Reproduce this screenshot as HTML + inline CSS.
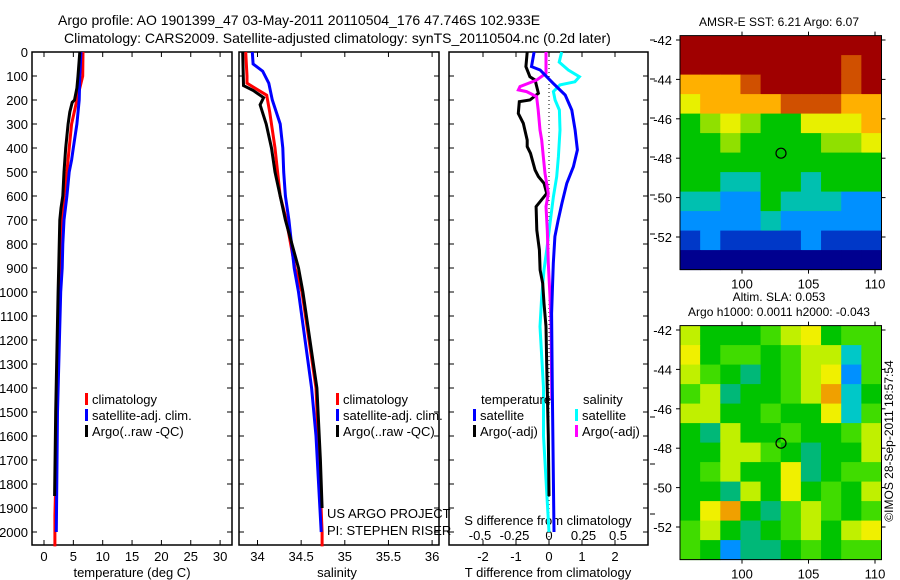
<!DOCTYPE html>
<html><head><meta charset="utf-8"><style>
body{margin:0;background:#fff;}
svg{display:block;font-family:"Liberation Sans",sans-serif;}
text{fill:#000;}
</style></head><body>
<svg id="fig" width="900" height="580" viewBox="0 0 900 580">
<text x="58" y="25" font-size="14">Argo profile: AO 1901399_47 03-May-2011 20110504_176 47.746S 102.933E</text>
<text x="64" y="43" font-size="14">Climatology: CARS2009. Satellite-adjusted climatology: synTS_20110504.nc (0.2d later)</text>
<g id="g"></g>
</svg>
<script>
// ---- data ----
const tClimDepth=[0,100,200,300,400,500,600,700,800,900,1000,1200,1500,1800,1930,2060];
const tClimVal=[6.65,6.6,5.6,4.7,4.3,3.9,3.4,3.1,3.0,2.9,2.7,2.5,2.2,2.0,1.85,1.85];
const tSatDepth=[0,100,200,300,400,450,500,600,700,800,900,1000,1500,2000];
const tSatVal=[6.3,6.1,6.0,5.6,5.0,4.7,4.3,3.9,3.4,3.2,3.1,2.85,2.3,2.1];
const tArgoDepth=[0,100,150,200,210,250,300,400,500,600,650,700,900,1000,1500,1850];
const tArgoVal=[6.1,5.8,5.6,5.2,4.8,4.4,4.1,3.7,3.4,3.2,2.9,2.7,2.5,2.4,2.0,1.8];
const sClimDepth=[0,100,130,180,250,400,500,600,700,900,1000,1400,2000,2060];
const sClimVal=[33.865,33.88,33.88,34.105,34.14,34.2,34.23,34.26,34.33,34.43,34.51,34.67,34.74,34.74];
const sSatDepth=[0,50,80,130,200,300,400,500,600,700,900,1000,1400,1600,1800,2000];
const sSatVal=[33.94,33.95,34.06,34.13,34.17,34.26,34.29,34.30,34.32,34.36,34.42,34.47,34.62,34.67,34.70,34.73];
const sArgoDepth=[0,140,160,190,220,300,400,500,600,700,900,1000,1400,1700,1900];
const sArgoVal=[33.83,33.84,33.95,34.07,34.03,34.10,34.16,34.2,34.26,34.32,34.47,34.52,34.68,34.72,34.74];
const dtArgoDepth=[0,61,103,117,172,200,207,256,297,367,394,422,492,519,547,589,644,742,825,908,964,1047,1144,1300,1600,1850];
const dtArgoVal=[-0.66,-0.70,-0.58,-0.42,-0.32,-0.58,-0.90,-0.93,-0.78,-0.66,-0.66,-0.56,-0.42,-0.32,-0.15,-0.07,-0.39,-0.37,-0.29,-0.27,-0.19,-0.15,-0.09,-0.07,-0.02,0];
const dtSatDepth=[0,61,75,131,179,242,325,408,478,547,631,700,769,881,964,1089,1400,2000];
const dtSatVal=[-0.45,-0.53,-0.27,0.13,0.49,0.69,0.79,0.86,0.74,0.54,0.39,0.28,0.18,0.13,0.11,0.08,0.1,0.15];
const dsSatDepth=[0,42,75,103,124,137,165,200,242,325,436,519,603,714,825,908,1019,1144,1400,1600,1700,2000];
const dsSatVal=[0.092,0.074,0.140,0.220,0.188,0.080,0.032,0.044,0.075,0.080,0.068,0.056,0.032,0.007,-0.017,-0.036,-0.053,-0.065,-0.04,-0.04,-0.03,0];
const dsArgoDepth=[0,89,117,144,158,165,186,242,325,367,436,506,589,644,742,881,1019,1144,1450];
const dsArgoVal=[-0.022,-0.022,-0.090,-0.21,-0.222,-0.162,-0.090,-0.078,-0.065,-0.053,-0.041,-0.029,-0.005,-0.022,-0.012,-0.005,0.007,0.015,0.02];
const depthTicks=[0,100,200,300,400,500,600,700,800,900,1000,1100,1200,1300,1400,1500,1600,1700,1800,1900,2000];
const tTicks=[0,5,10,15,20,25,30];
const sTicks=[34,34.5,35,35.5,36];
const sTickLabels=["34","34.5","35","35.5","36"];
const dtTicks=[-2,-1,0,1,2];
const dsTicks=[-0.5,-0.25,0,0.25,0.5];
const dsTickLabels=["-0.5","-0.25","0","0.25","0.5"];
const latTicks=[-42,-44,-46,-48,-50,-52];
const lonTicks=[100,105,110];
const sstGrid=["9999999999","9999999989","7778999989","6777788877","4565446667","4454444556","4444444444","4433443444","3322433322","2222322222","1211112111","0000000000"];
const sstColors=["#00008f","#0038c8","#0090ff","#00c0b0","#00c400","#90e000","#e8f000","#ffb000","#d05000","#a00000"];
const slaGrid=["5333456344","6344345514","5432345604","4523345713","5533433614","3253343345","3355432335","3453362344","3325363435","3673245434","4532345356","4302234344"];
const slaColors=["#0090ff","#00c8c8","#00b878","#00c400","#40dc00","#c0f000","#f0f000","#f0a000"];
const argoLon=102.933, argoLat=-47.746;

// ---- drawing ----
const NS="http://www.w3.org/2000/svg";
const G=document.getElementById('g');
function mk(tag,attrs,parent){const e=document.createElementNS(NS,tag);for(const k in attrs)e.setAttribute(k,attrs[k]);(parent||G).appendChild(e);return e;}
const top0=52,bot0=545;
const yD=d=>top0+0.24*d;
const xT=t=>44+5.87*t;
const xS=s=>257.5+87.3*(s-34);
const xDT=v=>549+33*v;
const xDS=v=>549+138*v;

function frame(x0,x1,name){
  const r=mk('rect',{x:x0,y:top0,width:x1-x0,height:bot0-top0,fill:'none',stroke:'#000','stroke-width':1.5});
  
  
}
function line(depths,vals,xf,color,name){
  const pts=depths.map((d,i)=>xf(vals[i]).toFixed(1)+','+yD(d).toFixed(1)).join(' ');
  const p=mk('polyline',{points:pts,fill:'none',stroke:color,'stroke-width':3,'stroke-linejoin':'miter'});
  
  
}
function txt(x,y,s,size,anchor,name){
  const t=mk('text',{x:x,y:y,'font-size':size,'text-anchor':anchor||'start'});
  t.textContent=s;
  
  
  return t;
}
function seg(x1,y1,x2,y2,w){mk('line',{x1,y1,x2,y2,stroke:'#000','stroke-width':w||1});}

// panels
const panels=[[32,232,'temperature-panel-frame'],[239,439,'salinity-panel-frame'],[449,648,'difference-panel-frame']];
panels.forEach(p=>{
  frame(p[0],p[1],p[2]);
  depthTicks.forEach(d=>{seg(p[0],yD(d),p[0]+5,yD(d));seg(p[1]-5,yD(d),p[1],yD(d));});
});
depthTicks.forEach(d=>txt(28,yD(d)+5,String(d),13,'end','depth-tick-label'));
tTicks.forEach(t=>{seg(xT(t),top0,xT(t),top0+5);seg(xT(t),bot0-5,xT(t),bot0);txt(xT(t),561,String(t),13,'middle','temperature-tick-label');});
sTicks.forEach((s,i)=>{seg(xS(s),top0,xS(s),top0+5);seg(xS(s),bot0-5,xS(s),bot0);txt(xS(s),561,sTickLabels[i],13,'middle','salinity-tick-label');});
dtTicks.forEach(v=>{seg(xDT(v),top0,xDT(v),top0+5);seg(xDT(v),bot0-5,xDT(v),bot0);txt(xDT(v),561,(v<0?'-':'')+Math.abs(v),13,'middle','t-diff-tick-label');});
dsTicks.forEach((v,i)=>txt(xDS(v),540,dsTickLabels[i],13,'middle','s-diff-tick-label'));
[40,79,118,157,195,234,417,464,514].forEach(y=>seg(650,y,655,y));
txt(132,577,'temperature (deg C)',13,'middle','temperature-axis-title');
txt(337,577,'salinity',13,'middle','salinity-axis-title');
txt(548,577,'T difference from climatology',13,'middle','t-diff-axis-title');
txt(548,525,'S difference from climatology',13,'middle','s-diff-axis-title');
mk('line',{x1:549,y1:top0,x2:549,y2:bot0,stroke:'#000','stroke-width':1,'stroke-dasharray':'1,3'});

// series
line(tClimDepth,tClimVal,xT,'#f00','temperature-climatology-line');
line(tSatDepth,tSatVal,xT,'#00f','temperature-satellite-line');
line(tArgoDepth,tArgoVal,xT,'#000','temperature-argo-line');
line(sClimDepth,sClimVal,xS,'#f00','salinity-climatology-line');
line(sSatDepth,sSatVal,xS,'#00f','salinity-satellite-line');
line(sArgoDepth,sArgoVal,xS,'#000','salinity-argo-line');
line(dsSatDepth,dsSatVal,xDS,'#0ff','s-diff-satellite-line');
line(dtArgoDepth,dtArgoVal,xDT,'#000','t-diff-argo-line');
line(dsArgoDepth,dsArgoVal,xDS,'#f0f','s-diff-argo-line');
line(dtSatDepth,dtSatVal,xDT,'#00f','t-diff-satellite-line');

// legends
function leg(x,y,color,label,name){
  const r=mk('rect',{x:x,y:y-11,width:3,height:12,fill:color});
  
  
  txt(x+7,y,label,13,'start',name);
}
[[85,'temperature'],[336,'salinity']].forEach(a=>{
  leg(a[0],404,'#f00','climatology',a[1]+'-legend-climatology');
  leg(a[0],420,'#00f','satellite-adj. clim.',a[1]+'-legend-satellite');
  leg(a[0],436,'#000','Argo(..raw -QC)',a[1]+'-legend-argo');
});
txt(481,404,'temperature',13,'start','diff-legend-temperature-header');
txt(583,404,'salinity',13,'start','diff-legend-salinity-header');
leg(473,420,'#00f','satellite','diff-legend-t-satellite');
leg(473,436,'#000','Argo(-adj)','diff-legend-t-argo');
leg(575,420,'#0ff','satellite','diff-legend-s-satellite');
leg(575,436,'#f0f','Argo(-adj)','diff-legend-s-argo');
txt(327,518,'US ARGO PROJECT',13,'start','project-label');
txt(327,535,'PI: STEPHEN RISER',13,'start','pi-label');

// maps
function map(top,grid,colors,name){
  const L=680,R=881.5,B=top+234;
  const xL=lon=>742+13.3*(lon-100);
  const yL=lat=>top+4.4+19.7*(-42-lat);
  const rows=grid.length,cols=grid[0].length;
  const cw=(R-L)/cols,ch=(B-top)/rows;
  grid.forEach((row,ri)=>{for(let ci=0;ci<cols;ci++){
    const c=mk('rect',{x:(L+ci*cw).toFixed(2),y:(top+ri*ch).toFixed(2),width:(cw+0.5).toFixed(2),height:(ch+0.5).toFixed(2),fill:colors[+row[ci]]});
    
    
  }});
  const f=mk('rect',{x:L,y:top,width:R-L,height:B-top,fill:'none',stroke:'#000','stroke-width':1});
  
  
  latTicks.forEach(l=>{seg(L-4,yL(l),L,yL(l));seg(R,yL(l),R+4,yL(l));txt(L-8,yL(l)+5,String(l),13,'end',name+'-lat-label');});
  lonTicks.forEach(l=>{seg(xL(l),B,xL(l),B+4);seg(xL(l),top-4,xL(l),top);txt(xL(l),B+19,String(l),13,'middle',name+'-lon-label');});
  const c=mk('circle',{cx:xL(argoLon),cy:yL(argoLat),r:5,fill:'none',stroke:'#000','stroke-width':1.2});
  
  
}
map(35.6,sstGrid,sstColors,'sst-map');
map(325.6,slaGrid,slaColors,'sla-map');
txt(779,26,'AMSR-E SST: 6.21  Argo: 6.07',12,'middle','sst-map-title');
txt(779,301,'Altim. SLA: 0.053',12,'middle','sla-map-title-1');
txt(779,316,'Argo h1000: 0.0011 h2000: -0.043',12,'middle','sla-map-title-2');
const rt=txt(0,0,'©IMOS 28-Sep-2011 18:57:54',12,'middle','imos-timestamp');
rt.setAttribute('transform','translate(893,441) rotate(-90)');
</script>
</body></html>
